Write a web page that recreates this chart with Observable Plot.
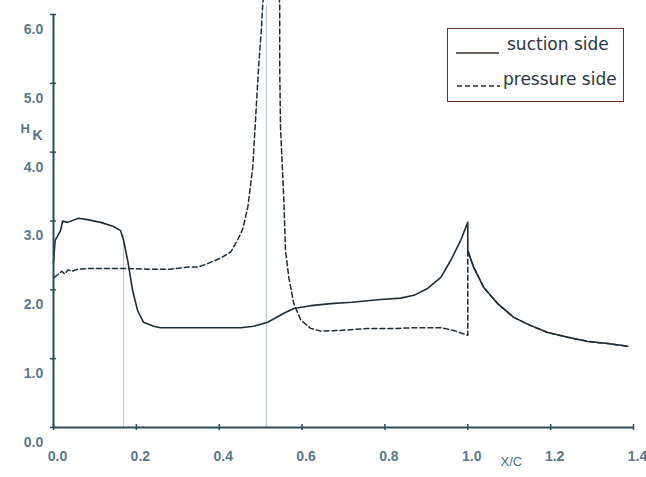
<!DOCTYPE html>
<html>
<head>
<meta charset="utf-8">
<script src="https://cdn.jsdelivr.net/npm/d3@7"></script>
<script src="https://cdn.jsdelivr.net/npm/@observablehq/plot@0.6"></script>
<style>
  html, body { margin: 0; padding: 0; background: #fff; }
  #wrap { position: relative; width: 646px; height: 477px; overflow: hidden; }
  #legend {
    position: absolute; left: 447px; top: 28px; width: 175px; height: 72px;
    border: 1.5px solid #6e2e22; background: #fff;
    font-family: "DejaVu Sans", Verdana, sans-serif; font-size: 17px; color: #2a3640;
  }
  #legend .row { position: absolute; left: 0; white-space: nowrap; }
  #legend svg { position: absolute; }
</style>
</head>
<body>
<div id="wrap"></div>
<script>
// ---- data ----
const suctionX = [0.000, 0.004, 0.017, 0.022, 0.034, 0.060, 0.082, 0.114, 0.145, 0.162, 0.169, 0.179, 0.191, 0.203, 0.217, 0.242, 0.258, 0.350, 0.452, 0.483, 0.517, 0.556, 0.580, 0.621, 0.669, 0.720, 0.790, 0.838, 0.870, 0.903, 0.935, 0.959, 0.983, 1.000, 1.000, 1.014, 1.039, 1.072, 1.111, 1.152, 1.193, 1.242, 1.290, 1.338, 1.386];
const suctionH = [2.40, 2.72, 2.86, 3.00, 2.98, 3.04, 3.02, 2.98, 2.92, 2.86, 2.72, 2.43, 1.99, 1.70, 1.53, 1.47, 1.45, 1.45, 1.45, 1.47, 1.53, 1.66, 1.73, 1.77, 1.80, 1.82, 1.86, 1.88, 1.92, 2.02, 2.18, 2.43, 2.72, 2.98, 2.57, 2.33, 2.03, 1.80, 1.60, 1.48, 1.38, 1.31, 1.25, 1.22, 1.18];

const pressureX = [0.002, 0.020, 0.027, 0.035, 0.045, 0.058, 0.082, 0.179, 0.234, 0.283, 0.324, 0.348, 0.372, 0.403, 0.428, 0.444, 0.452, 0.457, 0.469, 0.481, 0.488, 0.495, 0.502, 0.505, 0.508, 0.544, 0.546, 0.546, 0.548, 0.556, 0.560, 0.568, 0.580, 0.597, 0.621, 0.645, 0.693, 0.758, 0.831, 0.870, 0.935, 0.966, 1.000, 1.000, 1.014, 1.039, 1.072, 1.111, 1.152, 1.193, 1.242, 1.290, 1.338, 1.386];
const pressureH = [2.18, 2.27, 2.23, 2.29, 2.27, 2.30, 2.31, 2.31, 2.30, 2.30, 2.33, 2.33, 2.38, 2.46, 2.55, 2.72, 2.82, 2.89, 3.20, 3.78, 4.51, 5.23, 5.81, 6.13, 6.40, 6.40, 6.13, 5.23, 4.36, 3.30, 2.57, 2.18, 1.80, 1.56, 1.44, 1.40, 1.41, 1.44, 1.44, 1.45, 1.45, 1.41, 1.34, 2.57, 2.33, 2.03, 1.80, 1.60, 1.48, 1.38, 1.31, 1.25, 1.22, 1.18];

const markerX = [0.169, 0.514];
const markerTop = [2.80, 6.13];

const xTicks = [0, 0.2, 0.4, 0.6, 0.8, 1.0, 1.2, 1.4];
const yTicks = [0, 1, 2, 3, 4, 5, 6];

// ---- build ----
const suction = suctionX.map((x, i) => ({x, h: suctionH[i]}));
const pressure = pressureX.map((x, i) => ({x, h: pressureH[i]}));
const markers = markerX.map((x, i) => ({x, top: markerTop[i]}));

const axisColor = "#2c4d5c";
const curveColor = "#1d2d38";
const labelColor = "#3a5c76";
const fmt = d3.format(".1f");

const chart = Plot.plot({
  width: 646,
  height: 477,
  marginLeft: 53,
  marginRight: 13,
  marginTop: 14,
  marginBottom: 50,
  x: {domain: [0, 1.4], axis: null},
  y: {domain: [0, 6], axis: null},
  style: {fontFamily: "'Liberation Sans', Arial, sans-serif", overflow: "visible"},
  marks: [
    Plot.ruleX(markers, {x: "x", y1: 0, y2: "top", stroke: "#b6c8d6", strokeWidth: 1.2}),
    Plot.line(pressure, {x: "x", y: "h", stroke: curveColor, strokeWidth: 1.5, strokeDasharray: "5,3"}),
    Plot.line(suction, {x: "x", y: "h", stroke: curveColor, strokeWidth: 1.6}),
    Plot.ruleY([0], {x1: 0, x2: 1.4, stroke: axisColor, strokeWidth: 2}),
    Plot.ruleX([0], {y1: 0, y2: 6, stroke: axisColor, strokeWidth: 2}),
    Plot.axisX({ticks: xTicks, tickSize: 6, dy: -3, tickFormat: () => "", label: null, stroke: axisColor, strokeWidth: 1.5}),
    Plot.axisY({ticks: yTicks, tickSize: 6, dx: 3, tickFormat: () => "", label: null, stroke: axisColor, strokeWidth: 1.5}),
    Plot.text(xTicks, {x: d => d, y: 0, text: d => fmt(d), dx: 4, dy: 29, fill: labelColor, fontSize: 14, fontWeight: "bold", fillOpacity: 0.85}),
    Plot.text(yTicks, {x: 0, y: d => d, text: d => fmt(d), dx: -20, dy: 15, fill: labelColor, fontSize: 14, fontWeight: "bold", fillOpacity: 0.85}),
    Plot.text(["H"], {frameAnchor: "top-left", dx: -33, dy: 109, fill: labelColor, fontSize: 13, fontWeight: "bold", fillOpacity: 0.9}),
    Plot.text(["K"], {frameAnchor: "top-left", dx: -21, dy: 116, fill: labelColor, fontSize: 14, fontWeight: "bold", fillOpacity: 0.9}),
    Plot.text(["X/C"], {frameAnchor: "bottom-left", dx: 447, dy: 38, fill: labelColor, fontSize: 13, fillOpacity: 0.95})
  ]
});

const wrap = document.getElementById("wrap");
wrap.appendChild(chart);

const legend = document.createElement("div");
legend.id = "legend";
legend.innerHTML = `
  <svg style="left:8px;top:22px" width="44" height="4"><line x1="0" y1="2" x2="43" y2="2" stroke="#3a2a24" stroke-width="1.5"/></svg>
  <div class="row" style="left:59px;top:5px">suction side</div>
  <svg style="left:9px;top:55px" width="44" height="4"><line x1="0" y1="2" x2="43" y2="2" stroke="#2a2a2a" stroke-width="1.3" stroke-dasharray="5,3"/></svg>
  <div class="row" style="left:55px;top:40px">pressure side</div>`;
wrap.appendChild(legend);
</script>
</body>
</html>
